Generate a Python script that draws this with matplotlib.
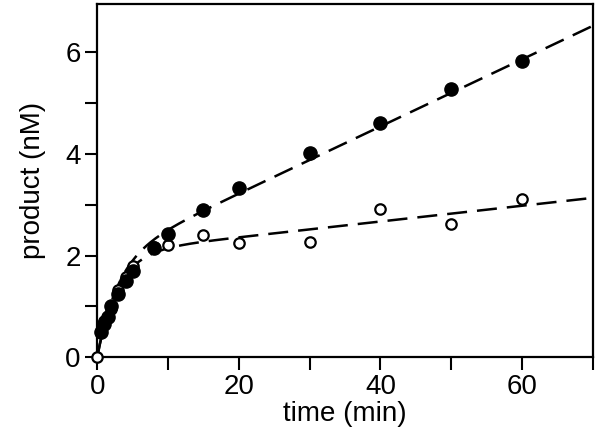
import numpy as np
import matplotlib.pyplot as plt

plt.rcParams['font.family'] = ['Liberation Sans', 'DejaVu Sans']

# filled circles
t_filled = [0.5, 1, 1.5, 2, 3, 4, 5, 8, 10, 15, 20, 30, 40, 50, 60]
p_filled = [0.5, 0.65, 0.8, 1.0, 1.25, 1.5, 1.7, 2.15, 2.42, 2.9, 3.33, 4.02, 4.6, 5.27, 5.82]

# open circles
t_open = [0, 0.5, 1, 2, 3, 4, 5, 8, 10, 15, 20, 30, 40, 50, 60]
p_open = [0.0, 0.5, 0.72, 0.95, 1.32, 1.58, 1.8, 2.17, 2.2, 2.4, 2.25, 2.27, 2.92, 2.63, 3.12]

# burst fit parameters: amplitude, rate (1/min), steady-state velocity (nM/min)
fit_filled = (1.9, 0.35, 0.066)
fit_open = (2.05, 0.35, 0.0155)


def burst(t, A, k, v):
    return A * (1 - np.exp(-k * t)) + v * t


fig = plt.figure(figsize=(6, 4.41), dpi=100)
ax = fig.add_axes([0.162, 0.19, 0.826, 0.801])

tt = np.linspace(0, 70, 400)
dash = (0, (8, 4))
ax.plot(tt, burst(tt, *fit_filled), color='black', lw=1.8, linestyle=dash, zorder=2)
ax.plot(tt, burst(tt, *fit_open), color='black', lw=1.8, linestyle=dash, zorder=2)

ax.plot(t_open, p_open, 'o', ms=7.5, mfc='white', mec='black', mew=1.6, zorder=3, clip_on=False)
ax.plot(t_filled, p_filled, 'o', ms=9.5, color='black', zorder=4, clip_on=False)

ax.set_xlim(0, 70)
ax.set_ylim(0, 6.95)
ax.set_xticks(np.arange(0, 71, 10))
ax.set_xticklabels(['0', '', '20', '', '40', '', '60', ''])
ax.set_yticks(np.arange(0, 7, 1))
ax.set_yticklabels(['0', '', '2', '', '4', '', '6'])
ax.tick_params(direction='out', length=9, width=1.5, labelsize=20, pad=3)
for s in ax.spines.values():
    s.set_linewidth(1.6)

ax.set_xlabel('time (min)', fontsize=20, labelpad=1)
ax.set_ylabel('product (nM)', fontsize=20, labelpad=14)

fig.savefig('out.png', dpi=100)
